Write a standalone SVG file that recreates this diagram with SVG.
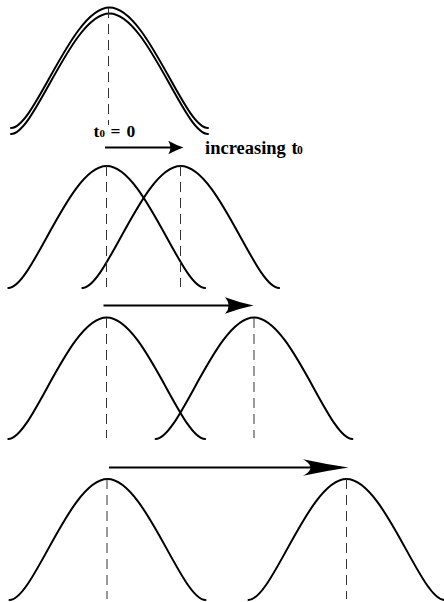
<svg xmlns="http://www.w3.org/2000/svg" width="444" height="602" viewBox="0 0 444 602">
<style>
.bell{fill:none;stroke:#000;stroke-width:2;stroke-linecap:round}
.axis{fill:none;stroke:#333;stroke-width:1;stroke-dasharray:10,6}
.shaft{fill:none;stroke:#000;stroke-width:2}
.head{fill:#000;stroke:none}
.lbl{font-family:"Liberation Serif","Times New Roman",serif;font-weight:bold;fill:#000}
</style>
<rect width="444" height="602" fill="#fff"/>
<g id="row1">
<path class="bell" d="M11,128 C35.13,128 71.68,7.5 109.5,7.5 C147.32,7.5 183.87,128 208,128"/>
<path class="bell" d="M11,134 C35.13,134 71.68,13.5 109.5,13.5 C147.32,13.5 183.87,134 208,134"/>
<line class="axis" x1="108.5" y1="8" x2="108.5" y2="125"/>
</g>
<g id="label-t0">
<text class="lbl" y="137" font-size="17.5"><tspan x="93.5">t</tspan><tspan x="99.5" font-size="11">0</tspan><tspan x="110.5">=</tspan><tspan x="126.5">0</tspan></text>
</g>
<g id="label-increasing">
<text class="lbl" x="205" y="153.5" font-size="18.5">increasing <tspan x="291.5">t</tspan><tspan x="297" font-size="11.5">0</tspan></text>
</g>
<g id="row2">
<path class="bell" d="M8.3,288 C32.41,288 68.91,166 106.7,166 C144.49,166 180.99,288 205.1,288"/>
<path class="bell" d="M82.3,288 C106.41,288 142.91,166 180.7,166 C218.49,166 254.99,288 279.1,288"/>
<line class="axis" x1="106.5" y1="166" x2="106.5" y2="287"/>
<line class="axis" x1="180.5" y1="166" x2="180.5" y2="287"/>
</g>
<g id="row3">
<path class="bell" d="M8.3,439 C32.41,439 68.91,317.5 106.7,317.5 C144.49,317.5 180.99,439 205.1,439"/>
<path class="bell" d="M155.6,439 C179.71,439 216.21,317.5 254,317.5 C291.79,317.5 328.29,439 352.4,439"/>
<line class="axis" x1="106.5" y1="318" x2="106.5" y2="438"/>
<line class="axis" x1="254" y1="318" x2="254" y2="438"/>
</g>
<g id="row4">
<path class="bell" d="M9.5,600 C33.51,600 69.87,479 107.5,479 C145.13,479 181.49,600 205.5,600"/>
<path class="bell" d="M248.5,600 C272.51,600 308.87,479 346.5,479 C384.13,479 420.49,600 444.5,600"/>
<line class="axis" x1="107" y1="479" x2="107" y2="599"/>
<line class="axis" x1="346.5" y1="479" x2="346.5" y2="599"/>
</g>
<g id="connectors">
<line class="shaft" x1="105" y1="147.5" x2="174" y2="147.5"/>
<path class="head" d="M183.5,147.5 Q176,145 168.3,140.7 Q172.5,147.5 168.3,154.3 Q176,150 183.5,147.5 Z"/>
<line class="shaft" x1="103.5" y1="305.5" x2="234" y2="305.5"/>
<path class="head" d="M253.5,305.5 Q239,302.5 225,297.3 Q232.5,305.5 225,313.7 Q239,308.5 253.5,305.5 Z"/>
<line class="shaft" x1="109" y1="467.5" x2="318" y2="467.5"/>
<path class="head" d="M348.5,467.5 Q325,464 303,459.2 Q318,467.5 303,475.8 Q325,471 348.5,467.5 Z"/>
</g>
</svg>
